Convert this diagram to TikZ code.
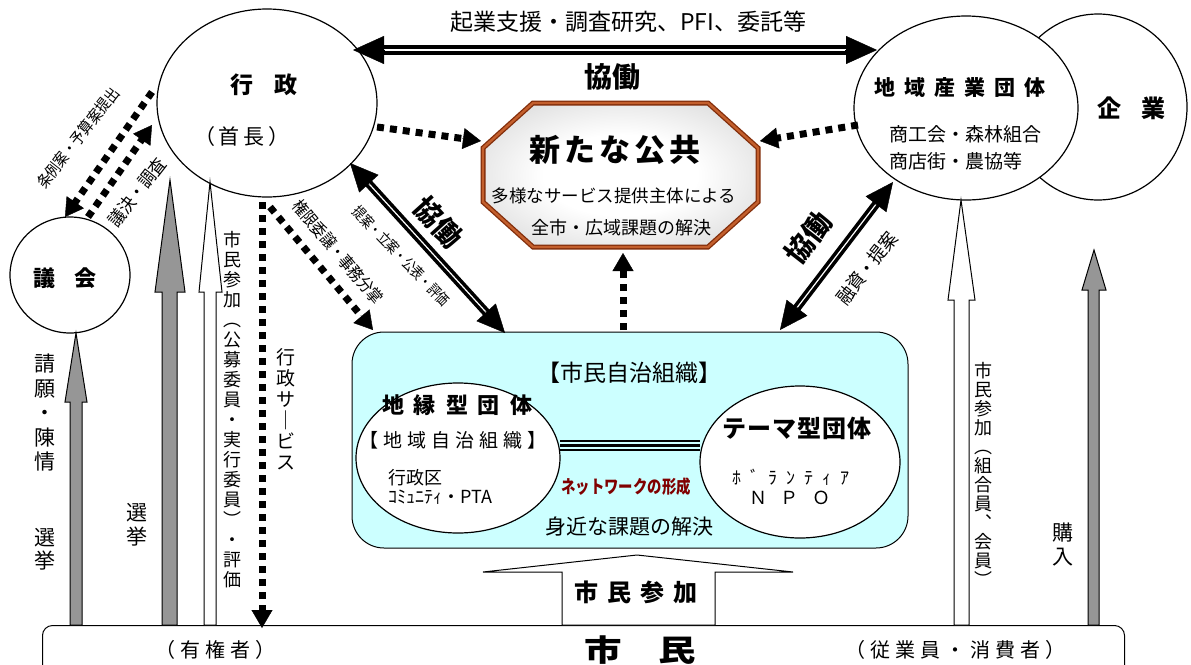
\documentclass[tikz,border=0pt]{standalone}
\usepackage{fontspec}
\usepackage{graphicx}
\newfontfamily\jp{Noto Sans CJK JP}
\usetikzlibrary{arrows.meta,calc,shapes.geometric}
\definecolor{arrgray}{RGB}{150,150,150}
\definecolor{cyanbox}{RGB}{204,255,255}
\definecolor{netred}{RGB}{128,0,0}
\definecolor{brownD}{RGB}{130,45,10}
\definecolor{brownL}{RGB}{195,95,45}
\pgfdeclareradialshading{octshade}{\pgfpoint{0bp}{0bp}}{color(0bp)=(white); color(14bp)=(white); color(50bp)=(black!28)}
\makeatletter
\newcommand\spaced[2]{\def\sp@gap{#1}\let\sp@first\relax\@tfor\sp@c:=#2\do{\sp@first\sp@c\def\sp@first{\hspace{\sp@gap}}}}
\makeatother
\newcommand\cond[2]{\scalebox{#1}[1]{#2}}
\begin{document}
\begin{tikzpicture}[x=1pt,y=-1pt,
  every node/.style={font=\jp, inner sep=0pt},
  jf/.style={font=\jp\fontsize{#1}{#1}\selectfont},
  jb/.style={font=\jp\bfseries\fontsize{#1}{#1}\selectfont},
  ell/.style={draw, line width=1.2pt, fill=white, ellipse, inner sep=0pt},
  dots/.style={line width=7pt, dash pattern=on 7pt off 6pt},
  dtip/.style={-{Triangle[length=18pt,width=21pt]}, line width=0.4pt},
  bigtip/.style={-{Triangle[length=31pt,width=28pt]}, line width=0.4pt},
  ktip/.style={-{Triangle[length=28pt,width=26pt]}, line width=0.4pt},
  grayarr/.style={draw, line width=1pt, fill=arrgray},
  whitearr/.style={draw, line width=1pt, fill=white},
  vtext/.style={align=center}
]
\fill[white] (0,0) rectangle (1191,664);
\useasboundingbox (0,0) rectangle (1191,664);

% main shapes
\node[draw, line width=1pt, rounded corners=10pt, minimum width=1082pt, minimum height=80pt, anchor=north west] (shimin) at (42,625) {};
\node[draw, line width=1pt, fill=cyanbox, rounded corners=32pt, minimum width=556pt, minimum height=216pt] (jichi) at (630,440) {};
\node[ell, minimum width=178pt, minimum height=186pt] (kigyo) at (1098,107) {};
\node[ell, minimum width=224pt, minimum height=184pt] (sangyo) at (966,108) {};
\node[ell, minimum width=220pt, minimum height=188pt] (gyosei) at (267,103) {};
\node[ell, minimum width=120pt, minimum height=116pt] (gikai) at (70,275) {};
\node[ell, minimum width=204pt, minimum height=150pt] (chien) at (458,458) {};
\node[ell, minimum width=200pt, minimum height=152pt] (theme) at (800,462) {};

% octagon
\shade[shading=octshade] (533,103) -- (708,103) -- (758,148) -- (758,202) -- (708,247) -- (533,247) -- (483,202) -- (483,148) -- cycle;
\draw[draw=brownD, line width=1.3pt, double=brownL, double distance=2.4pt, line join=miter] (533,103) -- (708,103) -- (758,148) -- (758,202) -- (708,247) -- (533,247) -- (483,202) -- (483,148) -- cycle;
\coordinate (kokyo) at (620,175);

% network triple line
\coordinate (nl) at (560,445.5);
\coordinate (nr) at (700,445.5);
\foreach \d in {-4.6,0,4.6} \draw[line width=2.2pt] ($(nl)+(0,\d)$) -- ($(nr)+(0,\d)$);

% block arrows
\draw[grayarr] (70,625) -- (70,402) -- (65,402) -- (76,333) -- (87,402) -- (82,402) -- (82,625) -- cycle;
\draw[grayarr] (162,625) -- (162,292) -- (155,292) -- (170,180) -- (185,292) -- (177,292) -- (177,625) -- cycle;
\draw[whitearr] (204,625) -- (204,292) -- (199,292) -- (210,182) -- (222,292) -- (216,292) -- (216,625) -- cycle;
\draw[whitearr] (954,625) -- (954,300) -- (948,300) -- (961,200) -- (975,300) -- (969,300) -- (969,625) -- cycle;
\draw[grayarr] (1088,625) -- (1088,290) -- (1082,290) -- (1094,250) -- (1106,290) -- (1099,290) -- (1099,625) -- cycle;
\draw[whitearr] (562,625) -- (562,572) -- (483,572) -- (637,555) -- (793,572) -- (715,572) -- (715,625) -- cycle;

% top double arrow
\coordinate (tA) at (353,50);
\coordinate (tB) at (877,50);
\draw[line width=4pt, double=white, double distance=2pt] ($(tA)!28pt!(tB)$) -- ($(tB)!28pt!(tA)$);
\draw[bigtip] ($(tA)!32pt!(tB)$) -- (tA);
\draw[bigtip] ($(tB)!32pt!(tA)$) -- (tB);

% diagonal kyodo arrows
\coordinate (kA) at (350,163);
\coordinate (kB) at (505,333);
\coordinate (kC) at (780,330);
\coordinate (kD) at (893,182);
\draw[line width=3.6pt, double=white, double distance=1.2pt] ($(kA)!25pt!(kB)$) -- ($(kB)!25pt!(kA)$);
\draw[ktip] ($(kA)!29pt!(kB)$) -- (kA);
\draw[ktip] ($(kB)!29pt!(kA)$) -- (kB);
\draw[line width=3.6pt, double=white, double distance=1.2pt] ($(kC)!25pt!(kD)$) -- ($(kD)!25pt!(kC)$);
\draw[ktip] ($(kC)!29pt!(kD)$) -- (kC);
\draw[ktip] ($(kD)!29pt!(kC)$) -- (kD);

% dotted arrows
\coordinate (jA) at (152,92);  \coordinate (jB) at (65,217);
\coordinate (gA) at (88,217);  \coordinate (gB) at (152,125);
\coordinate (sA) at (262,202); \coordinate (sB) at (262,628);
\coordinate (eA) at (270,207); \coordinate (eB) at (373,330);
\coordinate (nA) at (377,127); \coordinate (nB) at (481,141);
\coordinate (nC) at (858,125); \coordinate (nD) at (760,141);
\coordinate (nE) at (623,330); \coordinate (nF) at (623,253);
\foreach \a/\b in {jA/jB, gA/gB, sA/sB, eA/eB, nA/nB, nC/nD, nE/nF}{
  \draw[dots] (\a) -- ($(\b)!16pt!(\a)$);
  \draw[dtip] ($(\b)!19pt!(\a)$) -- (\b);
}

% texts in shapes
\node[jb=23] (tGyosei) at (264,85) {\spaced{22pt}{行政}};
\node[jf=21] (tShucho) at (242,137) {\spaced{4pt}{（首長）}};
\node[jb=22] (tGikai) at (65,278) {\spaced{20pt}{議会}};
\node[jb=21] (tSangyo) at (960,88) {\spaced{9pt}{地域産業団体}};
\node[jb=24] (tKigyo) at (1131,108) {\spaced{20pt}{企業}};
\node[font=\jp\fontsize{19}{27}\selectfont, align=left, anchor=west] (tShoko) at (889,148) {商工会・森林組合\\商店街・農協等};
\node[jb=31] (tKokyo) at (615,150) {\spaced{4pt}{新たな公共}};
\node[jf=17.5] (tTayo) at (614,196) {多様なサービス提供主体による};
\node[jf=18] (tZenshi) at (621,228) {全市・広域課題の解決};
\node[jf=23] (tJichi) at (629,373) {【市民自治組織】};
\node[jb=22] (tChien) at (457,405) {\spaced{10pt}{地縁型団体}};
\node[jf=19] (tChiiki) at (453,440) {\spaced{5pt}{【地域自治組織】}};
\node[font=\jp\fontsize{18}{19.5}\selectfont, align=left, anchor=west] (tGyoseiku) at (388,487) {行政区\\ｺﾐｭﾆﾃｨ・PTA};
\node[font=\jp\bfseries\fontsize{18}{18}\selectfont, text=netred] (tNet) at (626,487) {\cond{0.8}{ネットワークの形成}};
\node[jf=21] (tMijika) at (629,527) {身近な課題の解決};
\node[jb=24] (tTheme) at (797,428) {\spaced{1pt}{テーマ型団体}};
\node[jf=18] (tVol) at (791,477) {\spaced{9pt}{ﾎﾞﾗﾝﾃｨｱ}};
\node[jf=18] (tNPO) at (790,498) {\spaced{14pt}{ＮＰＯ}};
\node[jb=24] (tSankaB) at (636,592) {\spaced{9pt}{市民参加}};
\node[font=\jp\bfseries\fontsize{30}{30}\selectfont] (tShimin) at (640,650) {\cond{1.25}{市}\hspace{36pt}\cond{1.25}{民}};
\node[jf=20] (tYuken) at (215,650) {\spaced{5pt}{（有権者）}};
\node[jf=20] (tJugyo) at (955,650) {\spaced{5pt}{（従業員・消費者）}};

% top labels
\node[jf=23] (tKigyoShien) at (628,22) {起業支援・調査研究、PFI、委託等};
\node[jb=28] (tKyodoTop) at (612,77) {協働};

% vertical labels
\node[vtext, font=\jp\fontsize{21}{24.5}\selectfont] (vSeigan) at (45,413) {請\\願\\・\\陳\\情};
\node[vtext, font=\jp\fontsize{21}{23}\selectfont] (vSenkyo1) at (45,549.5) {選\\挙};
\node[vtext, font=\jp\fontsize{21}{24}\selectfont] (vSenkyo2) at (137,525) {選\\挙};
\node[vtext, font=\jp\fontsize{18}{20}\selectfont] (vSanka1) at (232,410) {市\\民\\参\\加\\︵\\公\\募\\委\\員\\・\\実\\行\\委\\員\\︶\\・\\評\\価};
\node[vtext, font=\jp\fontsize{19}{21}\selectfont] (vService) at (286,409.5) {行\\政\\サ\\｜\\ビ\\ス};
\node[vtext, font=\jp\fontsize{18}{19}\selectfont] (vSanka2) at (983,474.5) {市\\民\\参\\加\\︵\\組\\合\\員\\︑\\会\\員\\︶};
\node[vtext, font=\jp\fontsize{21}{24}\selectfont] (vKonyu) at (1063,545) {購\\入};

% rotated labels
\node[jf=16, rotate=52] (rJorei) at (78,138) {\cond{0.85}{条例案・予算案提出}};
\node[jf=18, rotate=52] (rGiketsu) at (137,192) {\cond{0.9}{議決・調査}};
\node[jf=17, rotate=-50] (rKengen) at (338,252) {\cond{0.85}{権限委譲・事務分掌}};
\node[jf=15, rotate=-46] (rTeian) at (401,256) {\cond{0.8}{提案・立案・公表・評価}};
\node[jb=28, rotate=-48] (rKyodoL) at (438,222) {協働};
\node[jb=28, rotate=52] (rKyodoR) at (808,238) {協働};
\node[jf=19, rotate=52] (rYushi) at (867,268) {\cond{0.9}{融資・提案}};
\end{tikzpicture}
\end{document}
